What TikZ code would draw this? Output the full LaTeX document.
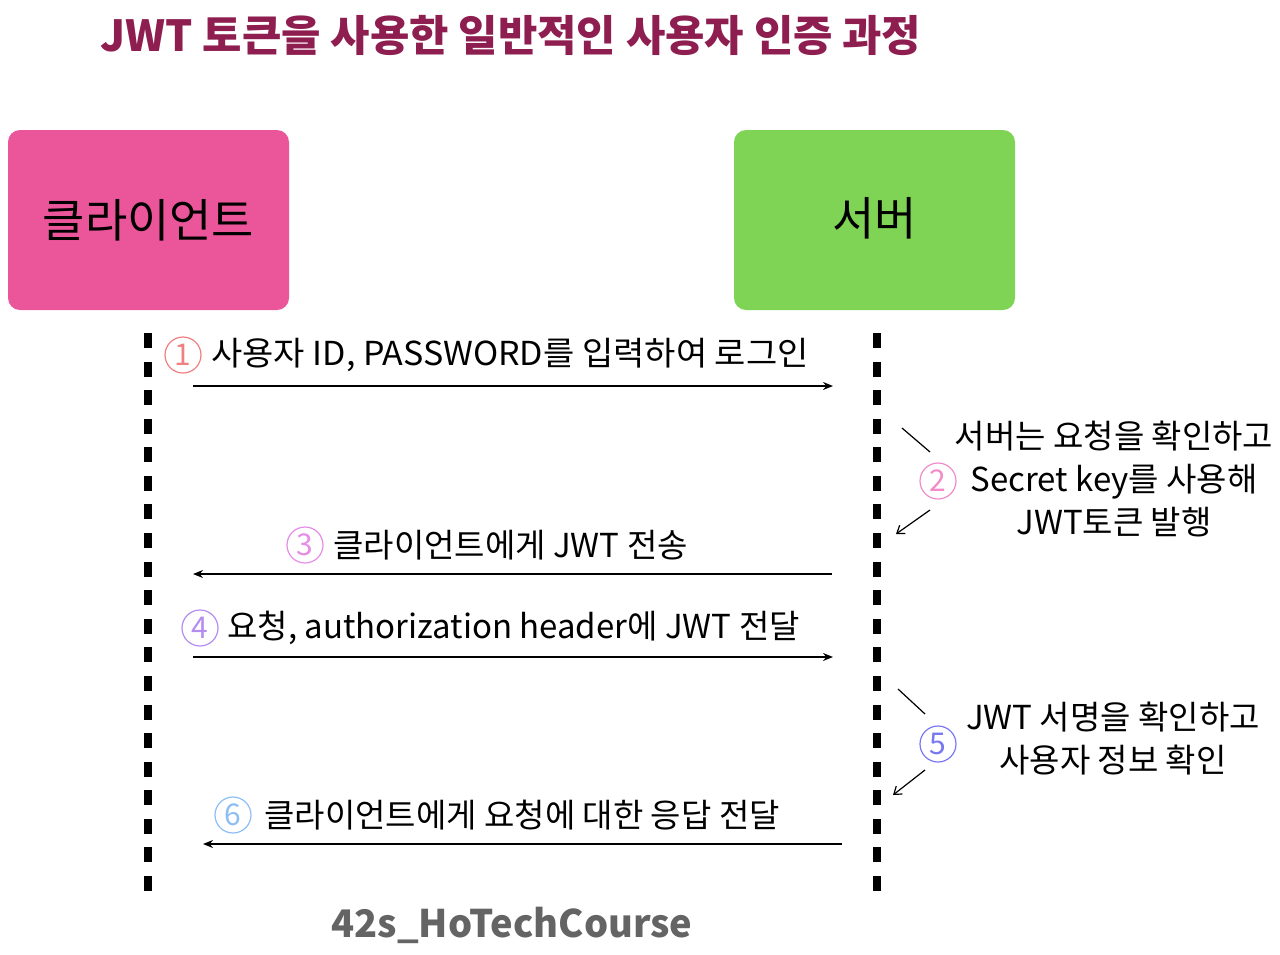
\documentclass[tikz,border=0pt]{standalone}
\usepackage{fontspec}
\setmainfont{Noto Sans CJK KR}
\usetikzlibrary{arrows.meta}
\definecolor{titlec}{RGB}{142,30,80}
\definecolor{cpink}{RGB}{235,86,155}
\definecolor{cgreen}{RGB}{128,212,85}
\definecolor{n1}{RGB}{240,128,128}
\definecolor{n2}{RGB}{240,140,200}
\definecolor{n3}{RGB}{230,140,230}
\definecolor{n4}{RGB}{180,140,240}
\definecolor{n5}{RGB}{120,120,240}
\definecolor{n6}{RGB}{140,190,245}
\definecolor{footc}{RGB}{100,100,100}
\tikzset{
  actor/.style={rounded corners=6pt, minimum width=140.5pt, minimum height=90pt, inner sep=0pt, font=\fontsize{23pt}{27pt}\selectfont},
  life/.style={line width=4pt, dash pattern=on 7.5pt off 6.79pt},
  msg/.style={line width=0.8pt, -{Stealth[length=5pt,width=4pt]}},
  side/.style={line width=0.6pt},
  sidearrow/.style={line width=0.6pt, -{Straight Barb[length=3.5pt,width=5pt]}},
  num/.style={circle, draw=#1, text=#1, line width=0.6pt, minimum size=18pt, inner sep=0pt, font=\fontsize{15pt}{15pt}\selectfont},
  lbl/.style={anchor=west, inner sep=0pt, font=\fontsize{16.5pt}{19pt}\selectfont},
  note/.style={align=center, inner sep=0pt, font=\fontsize{16.5pt}{21.5pt}\selectfont}
}
\begin{document}
\begin{tikzpicture}[x=0.5pt,y=-0.5pt]
\useasboundingbox (0,0) rectangle (1280,954);
% title
\node[text=titlec, font=\bfseries\fontsize{21.4pt}{25pt}\selectfont] (title) at (511,35) {JWT 토큰을 사용한 일반적인 사용자 인증 과정};
% actors
\node[actor, fill=cpink] (client) at (148.5,220) {클라이언트};
\node[actor, fill=cgreen] (server) at (874.5,220) {\raisebox{4pt}{서버}};
% lifelines
\coordinate (cltop) at (148,333);
\coordinate (clbot) at (148,891);
\coordinate (svtop) at (877,333);
\coordinate (svbot) at (877,891);
\draw[life] (cltop) -- (clbot);
\draw[life] (svtop) -- (svbot);
% message 1
\coordinate (m1s) at (193,386);
\coordinate (m1e) at (833,386);
\draw[msg] (m1s) -- (m1e);
\node[num=n1] (c1) at (183,355) {1};
\node[lbl] (t1) at (211,355) {\scalebox{1.03}[1]{사용자 ID, PASSWORD를 입력하여 로그인}};
% step 2
\coordinate (s2a) at (902,428);
\coordinate (s2b) at (930,452);
\coordinate (s2c) at (930,510);
\coordinate (s2d) at (896,534);
\draw[side] (s2a) -- (s2b);
\draw[sidearrow] (s2c) -- (s2d);
\node[num=n2] (c2) at (938,481) {2};
\node[note] (t2) at (1114,479) {서버는 요청을 확인하고\\Secret key를 사용해\\JWT토큰 발행};
% message 3
\coordinate (m3s) at (832,574);
\coordinate (m3e) at (193,574);
\draw[msg] (m3s) -- (m3e);
\node[num=n3] (c3) at (305,545) {3};
\node[lbl] (t3) at (333,545) {클라이언트에게 JWT 전송};
% message 4
\coordinate (m4s) at (193,657);
\coordinate (m4e) at (833,657);
\draw[msg] (m4s) -- (m4e);
\node[num=n4] (c4) at (200,628) {4};
\node[lbl] (t4) at (227,628) {요청, authorization header에 JWT 전달};
% step 5
\coordinate (s5a) at (898,689);
\coordinate (s5b) at (925,714);
\coordinate (s5c) at (925,770);
\coordinate (s5d) at (893,795);
\draw[side] (s5a) -- (s5b);
\draw[sidearrow] (s5c) -- (s5d);
\node[num=n5] (c5) at (938,744) {5};
\node[note] (t5) at (1113,739) {JWT 서명을 확인하고\\사용자 정보 확인};
% message 6
\coordinate (m6s) at (842,844);
\coordinate (m6e) at (203,844);
\draw[msg] (m6s) -- (m6e);
\node[num=n6] (c6) at (233,815) {6};
\node[lbl] (t6) at (264,815) {클라이언트에게 요청에 대한 응답 전달};
% footer
\node[text=footc, font=\bfseries\fontsize{19pt}{22pt}\selectfont] (foot) at (512,925) {42s\_HoTechCourse};
\end{tikzpicture}
\end{document}
